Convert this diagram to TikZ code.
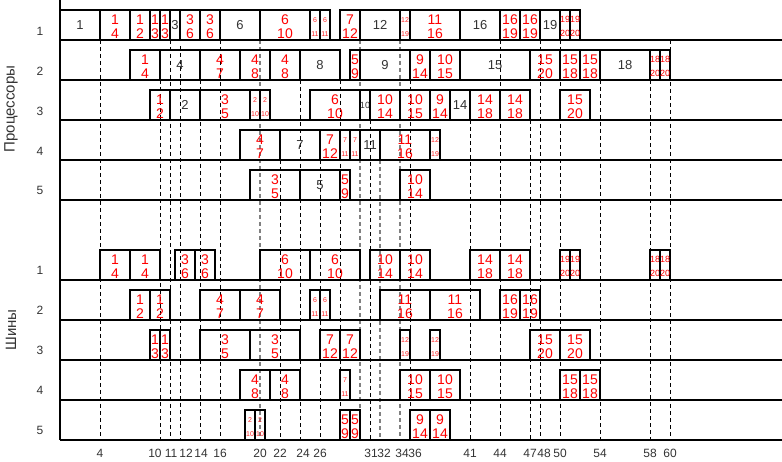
\documentclass[tikz,border=0pt]{standalone}
\usepackage{fontspec}
\setmainfont{Liberation Sans}
\tikzset{
  job/.style={line width=1.2pt},
  redl/.style={text=red, font=\fontsize{14}{14}\selectfont, align=center, inner sep=0pt, yshift=-1.5pt},
  redm/.style={text=red, font=\fontsize{9}{14}\selectfont, align=center, inner sep=0pt, yshift=-1.5pt},
  reds/.style={text=red!85, font=\fontsize{7}{14}\selectfont, align=center, inner sep=0pt, yshift=-2pt},
  blkl/.style={text=black!80, font=\fontsize{13}{14}\selectfont, inner sep=0pt},
  blks/.style={text=black!80, font=\fontsize{9}{14}\selectfont, inner sep=0pt},
  vline/.style={line width=1pt, dash pattern=on 4pt off 3pt},
  vlineg/.style={gray, line width=1.8pt, dash pattern=on 4pt off 3pt},
  rowline/.style={line width=1.3pt},
  rowlab/.style={text=black!80, font=\fontsize{12}{14}\selectfont},
}
\begin{document}
\begin{tikzpicture}[x=1pt,y=-1pt]
\useasboundingbox (0,0) rectangle (782,462);

\foreach \x/\y in {100/40,160/80,170/40,180/46,200/80,220/40,280/160,300/80,320/160,340/80,
  370/120,410/80,470/120,500/40,530/120,540/40,560/40,600/80,650/80,670/40}
  \draw[vline] (\x,\y) -- (\x,440);
\foreach \x/\y in {260/40,360/40,380/160,400/40}
  \draw[vlineg] (\x,\y) -- (\x,440);

% processors
\foreach \xa/\xb/\txt/\st [count=\i] in {60/100/1/blkl,100/130/{1\\4}/redl,130/150/{1\\2}/redl,
  150/160/{1\\3}/redl,160/170/{1\\3}/redl,170/180/3/blkl,180/200/{3\\6}/redl,200/220/{3\\6}/redl,
  220/260/6/blkl,260/310/{6\\10}/redl,310/320/{6\\11}/reds,320/330/{6\\11}/reds,340/360/{7\\12}/redl,
  360/400/12/blkl,400/410/{12\\19}/reds,410/460/{11\\16}/redl,460/500/16/blkl,500/520/{16\\19}/redl,
  520/540/{16\\19}/redl,540/560/19/blkl,560/570/{19\\20}/redm,570/580/{19\\20}/redm}{
  \draw[job] (\xa,10) rectangle (\xb,40);
  \node[\st] (p1-\i) at ({(\xa+\xb)/2},25) {\txt};
}
\foreach \xa/\xb/\txt/\st [count=\i] in {130/160/{1\\4}/redl,160/200/4/blkl,200/240/{4\\7}/redl,
  240/270/{4\\8}/redl,270/300/{4\\8}/redl,300/340/8/blkl,350/360/{5\\9}/redl,360/410/9/blkl,
  410/430/{9\\14}/redl,430/460/{10\\15}/redl,460/530/15/blkl,530/560/{15\\20}/redl,
  560/580/{15\\18}/redl,580/600/{15\\18}/redl,600/650/18/blkl,650/660/{18\\20}/redm,660/670/{18\\20}/redm}{
  \draw[job] (\xa,50) rectangle (\xb,80);
  \node[\st] (p2-\i) at ({(\xa+\xb)/2},65) {\txt};
}
\foreach \xa/\xb/\txt/\st [count=\i] in {150/170/{1\\2}/redl,170/200/2/blkl,200/250/{3\\5}/redl,
  250/260/{2\\10}/reds,260/270/{2\\10}/reds,310/360/{6\\10}/redl,360/370/10/blks,370/400/{10\\14}/redl,
  400/430/{10\\15}/redl,430/450/{9\\14}/redl,450/470/14/blkl,470/500/{14\\18}/redl,
  500/530/{14\\18}/redl,560/590/{15\\20}/redl}{
  \draw[job] (\xa,90) rectangle (\xb,120);
  \node[\st] (p3-\i) at ({(\xa+\xb)/2},105) {\txt};
}
\foreach \xa/\xb/\txt/\st [count=\i] in {240/280/{4\\7}/redl,280/320/7/blkl,320/340/{7\\12}/redl,
  340/350/{7\\11}/reds,350/360/{7\\11}/reds,360/380/11/blkl,380/430/{11\\16}/redl,430/440/{12\\19}/reds}{
  \draw[job] (\xa,130) rectangle (\xb,160);
  \node[\st] (p4-\i) at ({(\xa+\xb)/2},145) {\txt};
}
\foreach \xa/\xb/\txt/\st [count=\i] in {250/300/{3\\5}/redl,300/340/5/blkl,340/350/{5\\9}/redl,
  400/430/{10\\14}/redl}{
  \draw[job] (\xa,170) rectangle (\xb,200);
  \node[\st] (p5-\i) at ({(\xa+\xb)/2},185) {\txt};
}

% buses
\foreach \xa/\xb/\txt/\st [count=\i] in {100/130/{1\\4}/redl,130/160/{1\\4}/redl,175/195/{3\\6}/redl,
  195/215/{3\\6}/redl,260/310/{6\\10}/redl,310/360/{6\\10}/redl,370/400/{10\\14}/redl,
  400/430/{10\\14}/redl,470/500/{14\\18}/redl,500/530/{14\\18}/redl,560/570/{19\\20}/redm,
  570/580/{19\\20}/redm,650/660/{18\\20}/redm,660/670/{18\\20}/redm}{
  \draw[job] (\xa,250) rectangle (\xb,280);
  \node[\st] (b1-\i) at ({(\xa+\xb)/2},265) {\txt};
}
\foreach \xa/\xb/\txt/\st [count=\i] in {130/150/{1\\2}/redl,150/170/{1\\2}/redl,200/240/{4\\7}/redl,
  240/280/{4\\7}/redl,310/320/{6\\11}/reds,320/330/{6\\11}/reds,380/430/{11\\16}/redl,
  430/480/{11\\16}/redl,500/520/{16\\19}/redl,520/540/{16\\19}/redl}{
  \draw[job] (\xa,290) rectangle (\xb,320);
  \node[\st] (b2-\i) at ({(\xa+\xb)/2},305) {\txt};
}
\foreach \xa/\xb/\txt/\st [count=\i] in {150/160/{1\\3}/redl,160/170/{1\\3}/redl,200/250/{3\\5}/redl,
  250/300/{3\\5}/redl,320/340/{7\\12}/redl,340/360/{7\\12}/redl,400/410/{12\\19}/reds,
  430/440/{12\\19}/reds,530/560/{15\\20}/redl,560/590/{15\\20}/redl}{
  \draw[job] (\xa,330) rectangle (\xb,360);
  \node[\st] (b3-\i) at ({(\xa+\xb)/2},345) {\txt};
}
\foreach \xa/\xb/\txt/\st [count=\i] in {240/270/{4\\8}/redl,270/300/{4\\8}/redl,340/350/{7\\11}/reds,
  400/430/{10\\15}/redl,430/460/{10\\15}/redl,560/580/{15\\18}/redl,580/600/{15\\18}/redl}{
  \draw[job] (\xa,370) rectangle (\xb,400);
  \node[\st] (b4-\i) at ({(\xa+\xb)/2},385) {\txt};
}
\foreach \xa/\xb/\txt/\st [count=\i] in {245/255/{2\\10}/reds,255/265/{2\\10}/reds,340/350/{5\\9}/redl,
  350/360/{5\\9}/redl,410/430/{9\\14}/redl,430/450/{9\\14}/redl}{
  \draw[job] (\xa,410) rectangle (\xb,440);
  \node[\st] (b5-\i) at ({(\xa+\xb)/2},425) {\txt};
}

\foreach \y in {40,80,120,160,200,280,320,360,400,440}
  \draw[rowline] (60,\y) -- (782,\y);
\draw[rowline] (60,0) -- (60,440);

\foreach \n/\y in {1/31,2/71,3/111,4/151,5/190}
  \node[rowlab] (pr\n) at (40,\y) {\n};
\foreach \n/\y in {1/270,2/310,3/350,4/390,5/430}
  \node[rowlab] (bs\n) at (40,\y) {\n};
\node[rowlab,font=\fontsize{15}{15}\selectfont,rotate=90] (proc) at (11,109) {Процессоры};
\node[rowlab,font=\fontsize{15}{15}\selectfont,rotate=90] (bus) at (11,330) {Шины};

\foreach \x/\v in {100/4,155/10,171/11,186/12,201/14,220/16,260/20,280/22,303/24,320/26,371/31,
  384/32,402/34,415/36,470/41,500/44,530/47,544/48,560/50,600/54,650/58,670/60}
  \node[rowlab] (t\v) at (\x,453) {\v};
\end{tikzpicture}
\end{document}
